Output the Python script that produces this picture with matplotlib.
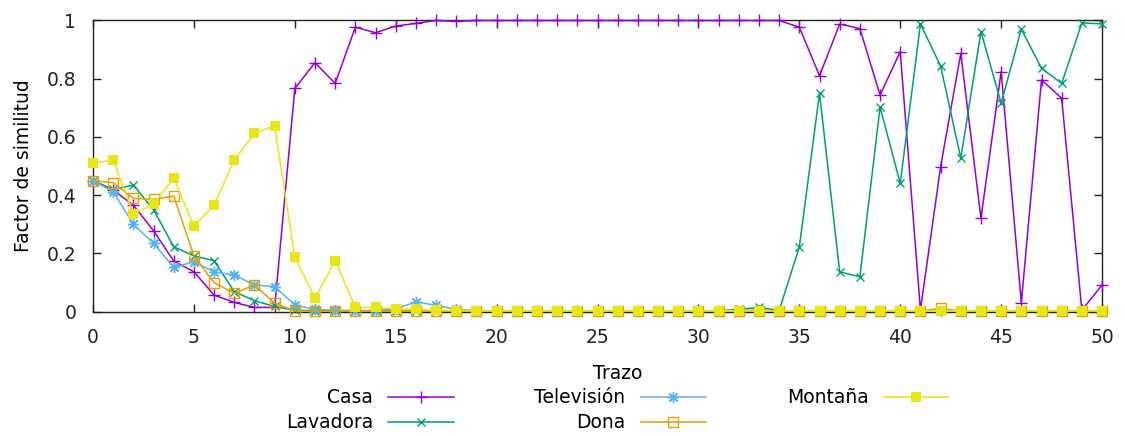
import matplotlib
matplotlib.use("Agg")
import matplotlib.pyplot as plt
from matplotlib.ticker import FuncFormatter

# trazo index 0..50
trazo = list(range(51))

casa = [0.45, 0.418, 0.366, 0.278, 0.174, 0.137, 0.057, 0.032, 0.015, 0.015,
        0.767, 0.855, 0.784, 0.977, 0.958, 0.981, 0.99, 1.0, 0.997, 1.0,
        1.0, 1.0, 1.0, 1.0, 1.0, 1.0, 1.0, 1.0, 1.0, 1.0,
        1.0, 1.0, 1.0, 1.0, 1.0, 0.977, 0.81, 0.988, 0.972, 0.744,
        0.893, 0.006, 0.498, 0.887, 0.321, 0.824, 0.031, 0.796, 0.733, 0.005,
        0.092]
lavadora = [0.45, 0.42, 0.435, 0.35, 0.223, 0.192, 0.175, 0.069, 0.038, 0.018,
            0.005, 0.004, 0.003, 0.002, 0.002, 0.002, 0.002, 0.002, 0.002, 0.002,
            0.002, 0.002, 0.002, 0.002, 0.002, 0.002, 0.002, 0.002, 0.002, 0.002,
            0.002, 0.003, 0.008, 0.015, 0.004, 0.223, 0.75, 0.137, 0.12, 0.702,
            0.441, 0.988, 0.844, 0.527, 0.962, 0.716, 0.97, 0.836, 0.784, 0.992,
            0.988]
television = [0.45, 0.412, 0.30, 0.235, 0.152, 0.172, 0.137, 0.126, 0.092, 0.086,
              0.023, 0.008, 0.005, 0.004, 0.004, 0.01, 0.034, 0.022, 0.008, 0.004,
              0.003, 0.003, 0.003, 0.003, 0.003, 0.003, 0.003, 0.003, 0.003, 0.003,
              0.003, 0.003, 0.004, 0.006, 0.003, 0.003, 0.003, 0.003, 0.003, 0.003,
              0.003, 0.003, 0.003, 0.003, 0.003, 0.003, 0.003, 0.003, 0.003, 0.003,
              0.003]
dona = [0.45, 0.443, 0.389, 0.386, 0.397, 0.191, 0.1, 0.063, 0.092, 0.029,
        0.003, 0.002, 0.002, 0.002, 0.002, 0.002, 0.002, 0.002, 0.002, 0.002,
        0.002, 0.002, 0.002, 0.002, 0.002, 0.002, 0.002, 0.002, 0.002, 0.002,
        0.002, 0.002, 0.002, 0.002, 0.002, 0.002, 0.002, 0.002, 0.002, 0.002,
        0.002, 0.002, 0.012, 0.002, 0.002, 0.002, 0.002, 0.002, 0.002, 0.002,
        0.002]
montana = [0.51, 0.521, 0.336, 0.37, 0.458, 0.294, 0.366, 0.521, 0.613, 0.638,
           0.187, 0.048, 0.175, 0.015, 0.015, 0.01, 0.008, 0.005, 0.004, 0.003,
           0.003, 0.003, 0.003, 0.003, 0.003, 0.003, 0.003, 0.003, 0.003, 0.003,
           0.003, 0.003, 0.003, 0.003, 0.003, 0.003, 0.003, 0.003, 0.003, 0.003,
           0.003, 0.003, 0.003, 0.003, 0.003, 0.003, 0.003, 0.003, 0.003, 0.003,
           0.003]

plt.rcParams['font.family'] = ['DejaVu Sans']
plt.rcParams['font.size'] = 13.5

fig = plt.figure(figsize=(11.25, 4.36), dpi=100)
ax = fig.add_axes([0.0827, 0.285, 0.8969, 0.668])

series = [
    ('Casa', casa, '#9400d3', dict(marker='+', ms=9, mew=1)),
    ('Lavadora', lavadora, '#009e73', dict(marker='x', ms=6, mew=1)),
    ('Televisión', television, '#56b4e9', dict(marker=(8, 2, 0), ms=8, mew=1)),
    ('Dona', dona, '#e69f00', dict(marker='s', ms=7, mew=1, mfc='none')),
    ('Montaña', montana, '#e6e619', dict(marker='s', ms=7, mew=0)),
]
for i, (name, vals, col, mk) in enumerate(series):
    ax.plot(trazo, vals, color=col, lw=1.1, label=name, clip_on=False,
            zorder=3 + i, **mk)

ax.set_xlim(0, 50)
ax.set_ylim(0, 1)
ax.set_xticks(range(0, 51, 5))
ax.set_yticks([0, 0.2, 0.4, 0.6, 0.8, 1.0])
ax.yaxis.set_major_formatter(FuncFormatter(lambda v, p: '%g' % v))
ax.tick_params(direction='in', length=6, width=1, top=True, right=True,
               colors='#222222', labelcolor='#222222')
ax.tick_params(axis='y', pad=12)
ax.tick_params(axis='x', pad=12)
for s in ax.spines.values():
    s.set_linewidth(1)
    s.set_color('#222222')
ax.set_ylabel('Factor de similitud', labelpad=10)

leg = fig.legend(loc='upper center', bbox_to_anchor=(0.549, 0.187), ncol=3,
                 title='Trazo', frameon=False, markerfirst=False,
                 handlelength=3.5, handletextpad=0.8, columnspacing=4.3,
                 labelspacing=0.3, borderpad=0, fontsize=13.5,
                 title_fontsize=13.5)

fig.savefig('out.png', dpi=100)
